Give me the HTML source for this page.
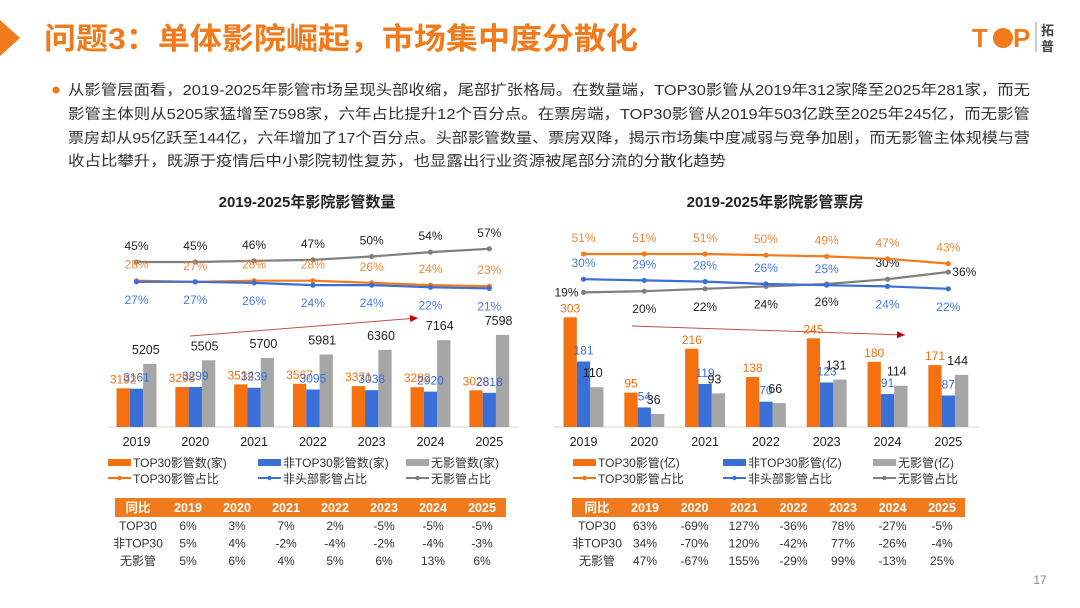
<!DOCTYPE html>
<html><head><meta charset="utf-8">
<style>
body{margin:0;width:1080px;height:608px;background:#fff;overflow:hidden;font-family:"Liberation Sans","Noto Sans CJK SC",sans-serif;}
svg{position:absolute;left:0;top:0}
.t{font-family:"Liberation Sans","Noto Sans CJK SC",sans-serif}
</style></head>
<body>
<svg width="1080" height="608" viewBox="0 0 1080 608" id="page">
  <polygon points="0,20 20,38 0,56" fill="#f07a1c"/>
  <text x="44" y="49" font-size="30" font-weight="bold" fill="#f07a1c" class="t" textLength="594" lengthAdjust="spacingAndGlyphs">问题3：单体影院崛起，市场集中度分散化</text>
  <g>
    <text x="972" y="47" font-size="26" font-weight="bold" fill="#f07a1c" class="t">T</text>
    <circle cx="1003" cy="38" r="10" fill="#f07a1c"/>
    <text x="1013" y="47" font-size="26" font-weight="bold" fill="#f07a1c" class="t">P</text>
    <line x1="1036" y1="22" x2="1036" y2="52" stroke="#999" stroke-width="1"/>
    <text x="1041" y="35" font-size="13" font-weight="bold" fill="#444" class="t">拓</text>
    <text x="1041" y="51" font-size="13" font-weight="bold" fill="#444" class="t">普</text>
  </g>
  <circle cx="56" cy="90" r="3.5" fill="#f07a1c"/>
  <g font-size="14.5" fill="#333" class="t">
    <text x="68" y="95" textLength="962" lengthAdjust="spacingAndGlyphs">从影管层面看，2019-2025年影管市场呈现头部收缩，尾部扩张格局。在数量端，TOP30影管从2019年312家降至2025年281家，而无</text>
    <text x="68" y="119" textLength="962" lengthAdjust="spacingAndGlyphs">影管主体则从5205家猛增至7598家，六年占比提升12个百分点。在票房端，TOP30影管从2019年503亿跌至2025年245亿，而无影管</text>
    <text x="68" y="143" textLength="962" lengthAdjust="spacingAndGlyphs">票房却从95亿跃至144亿，六年增加了17个百分点。头部影管数量、票房双降，揭示市场集中度减弱与竞争加剧，而无影管主体规模与营</text>
    <text x="68" y="166" textLength="658" lengthAdjust="spacingAndGlyphs">收占比攀升，既源于疫情后中小影院韧性复苏，也显露出行业资源被尾部分流的分散化趋势</text>
  </g>
  <text x="307" y="207" font-size="15" font-weight="bold" fill="#222" text-anchor="middle" class="t">2019-2025年影院影管数量</text>
  <text x="775" y="207" font-size="15" font-weight="bold" fill="#222" text-anchor="middle" class="t">2019-2025年影院影管票房</text>
  <g id="left"></g>
  <g id="right"></g>
  <text x="1040" y="584" font-size="12" fill="#888" text-anchor="middle" class="t">17</text>
</svg>
<script>
const years = ['2019','2020','2021','2022','2023','2024','2025'];
// Left chart: counts
const countTop30 = [3192,3298,3514,3567,3371,3282,3028];
const countNonTop30 = [3161,3299,3239,3095,3038,2920,2818];
const countNone = [5205,5505,5700,5981,6360,7164,7598];
const shareCountTop30 = [28,27,28,28,26,24,23];
const shareCountNon = [27,27,26,24,24,22,21];
const shareCountNone = [45,45,46,47,50,54,57];
const yoyCountTop30 = ['6%','3%','7%','2%','-5%','-5%','-5%'];
const yoyCountNon = ['5%','4%','-2%','-4%','-2%','-4%','-3%'];
const yoyCountNone = ['5%','6%','4%','5%','6%','13%','6%'];
// Right chart: box office
const boxTop30 = [303,95,216,138,245,180,171];
const boxNonTop30 = [181,54,119,70,123,91,87];
const boxNone = [110,36,93,66,131,114,144];
const shareBoxTop30 = [51,51,51,50,49,47,43];
const shareBoxNon = [30,29,28,26,25,24,22];
const shareBoxNone = [19,20,22,24,26,30,36];
const yoyBoxTop30 = ['63%','-69%','127%','-36%','78%','-27%','-5%'];
const yoyBoxNon = ['34%','-70%','120%','-42%','77%','-26%','-4%'];
const yoyBoxNone = ['47%','-67%','155%','-29%','99%','-13%','25%'];

const NS='http://www.w3.org/2000/svg';
const OR='#f5700f', BL='#3a6fd8', GR='#a6a6a6';
function mk(parent,tag,attrs,text){const e=document.createElementNS(NS,tag);for(const k in attrs)e.setAttribute(k,attrs[k]);if(text!==undefined)e.textContent=text;parent.appendChild(e);return e;}

function chart(g, cfg){
  const base=427;
  const xAt=i=>cfg.x0+i*cfg.step;
  const yBar=v=>base-v*cfg.barScale;
  const yLine=v=>cfg.lineB - v*cfg.lineK;
  const bw=13.3;
  const axis=mk(g,'line',{x1:cfg.x0-cfg.step/2,x2:xAt(6)+cfg.step/2,y1:base,y2:base,stroke:'#d9d9d9','stroke-width':1});
  
  
  const series=[[cfg.b1,OR,-1,'top30'],[cfg.b2,BL,0,'non-top30'],[cfg.b3,GR,1,'none']];
  series.forEach(([arr,col,off,nm])=>{
    arr.forEach((v,i)=>{
      const r=mk(g,'rect',{x:xAt(i)+off*bw-bw/2,y:yBar(v),width:bw,height:v*cfg.barScale,fill:col});
      
      
    });
  });
  series.forEach(([arr,col,off,nm])=>{
    arr.forEach((v,i)=>{
      const isG=off===1;
      const t=mk(g,'text',{x:xAt(i)+off*bw*(isG?0.7:1),y:yBar(v)-(isG?10:(off===0?7:5)),'font-size':isG?12.5:12,fill:isG?'#222':col,'text-anchor':'middle',class:'t'},v);
      
      
    });
  });
  years.forEach((y,i)=>{
    const t=mk(g,'text',{x:xAt(i),y:base+19,'font-size':12.5,fill:'#222','text-anchor':'middle',class:'t'},y);
    
    
  });
  const lines=[[cfg.l3,'#7f7f7f','#222','none',cfg.p3],[cfg.l1,'#f07a1c','#f0883a','top30',cfg.p1],[cfg.l2,'#3a6fd8','#4a7be0','non',cfg.p2]];
  lines.forEach(([arr,col,tc,nm,pos])=>{
    const pl=mk(g,'polyline',{points:arr.map((v,i)=>xAt(i)+','+yLine(v)).join(' '),fill:'none',stroke:col,'stroke-width':2.2});
    
    
    arr.forEach((v,i)=>{
      const c=mk(g,'circle',{cx:xAt(i),cy:yLine(v),r:2.6,fill:col});
      
      
      const p=pos[i];
      let dx=0,dy=-12,anc='middle';
      if(p==='b')dy=22; if(p==='l'){dx=-5;dy=4;anc='end';} if(p==='r'){dx=4;dy=4;anc='start';}
      const t=mk(g,'text',{x:xAt(i)+dx,y:yLine(v)+dy,'font-size':12,fill:tc,'text-anchor':anc,class:'t'},v+'%');
      
      
    });
  });
  const ar=mk(g,'line',{x1:cfg.arrow[0],y1:cfg.arrow[1],x2:cfg.arrow[2],y2:cfg.arrow[3],stroke:'#c0504d','stroke-width':1});
  
  
  const [ax1,ay1,ax2,ay2]=cfg.arrow;const ang=Math.atan2(ay2-ay1,ax2-ax1);
  const hp=[[ax2,ay2],[ax2-8*Math.cos(ang)+3.5*Math.sin(ang),ay2-8*Math.sin(ang)-3.5*Math.cos(ang)],[ax2-8*Math.cos(ang)-3.5*Math.sin(ang),ay2-8*Math.sin(ang)+3.5*Math.cos(ang)]];
  const ah=mk(g,'polygon',{points:hp.map(p=>p.join(',')).join(' '),fill:'#c00000'});
  
  
  const lx=cfg.legX;
  [[OR,cfg.leg[0],cfg.leg[3]],[BL,cfg.leg[1],cfg.leg[4]],[GR,cfg.leg[2],cfg.leg[5]]].forEach(([col,a,b],k)=>{
    const x=lx[k];
    const r=mk(g,'rect',{x:x,y:459,width:23,height:7,fill:col});
    
    
    const t=mk(g,'text',{x:x+25,y:467,'font-size':12,fill:'#333',class:'t'},a);
    
    
    const lcol=k===2?'#7f7f7f':col;
    mk(g,'line',{x1:x,x2:x+23,y1:478,y2:478,stroke:lcol,'stroke-width':2});
    mk(g,'circle',{cx:x+11.5,cy:478,r:2.2,fill:lcol});
    const t2=mk(g,'text',{x:x+25,y:483,'font-size':12,fill:'#333',class:'t'},b);
    
    
  });
  const tb=mk(g,'rect',{x:cfg.tx0,y:498,width:cfg.tw,height:19,fill:'#f07a1c'});
  
  
  const cx=j=>cfg.tc0+j*cfg.tstep;
  mk(g,'text',{x:cfg.tlab,y:512,'font-size':12.5,'font-weight':'bold',fill:'#fff','text-anchor':'middle',class:'t'},'同比');
  years.forEach((y,j)=>mk(g,'text',{x:cx(j),y:512,'font-size':12.5,'font-weight':'bold',fill:'#fff','text-anchor':'middle',class:'t'},y));
  [['TOP30',cfg.r1],['非TOP30',cfg.r2],['无影管',cfg.r3]].forEach(([lab,arr],r)=>{
    const y=530+r*17.5;
    const tl=mk(g,'text',{x:cfg.tlab,y:y,'font-size':12,fill:'#333','text-anchor':'middle',class:'t'},lab);
    
    
    arr.forEach((v,j)=>{
      const t=mk(g,'text',{x:cx(j),y:y,'font-size':12,fill:'#333','text-anchor':'middle',class:'t'},v);
      
      
    });
  });
}
const L=document.getElementById('left');


chart(L,{x0:136.5,step:58.8,barScale:0.01212,lineB:311.5,lineK:1.1,
  b1:countTop30,b2:countNonTop30,b3:countNone,l1:shareCountTop30,l2:shareCountNon,l3:shareCountNone,
  p1:['a','a','a','a','a','a','a'],p2:['b','b','b','b','b','b','b'],p3:['a','a','a','a','a','a','a'],
  arrow:[190,336,418,318],legX:[108,258,406],
  leg:['TOP30影管数(家)','非TOP30影管数(家)','无影管数(家)','TOP30影管占比','非头部影管占比','无影管占比'],
  tx0:115,tw:391,tlab:138,tc0:188,tstep:49,r1:yoyCountTop30,r2:yoyCountNon,r3:yoyCountNone});
const R=document.getElementById('right');


chart(R,{x0:583.5,step:60.8,barScale:0.362,lineB:315.2,lineK:1.2,
  b1:boxTop30,b2:boxNonTop30,b3:boxNone,l1:shareBoxTop30,l2:shareBoxNon,l3:shareBoxNone,
  p1:['a','a','a','a','a','a','a'],p2:['a','a','a','a','a','b','b'],p3:['l','b','b','b','b','a','r'],
  arrow:[632,326,905,335],legX:[573,723,873],
  leg:['TOP30影管(亿)','非TOP30影管(亿)','无影管(亿)','TOP30影管占比','非头部影管占比','无影管占比'],
  tx0:572,tw:393,tlab:597,tc0:645,tstep:49.5,r1:yoyBoxTop30,r2:yoyBoxNon,r3:yoyBoxNone});
</script>
</body></html>
